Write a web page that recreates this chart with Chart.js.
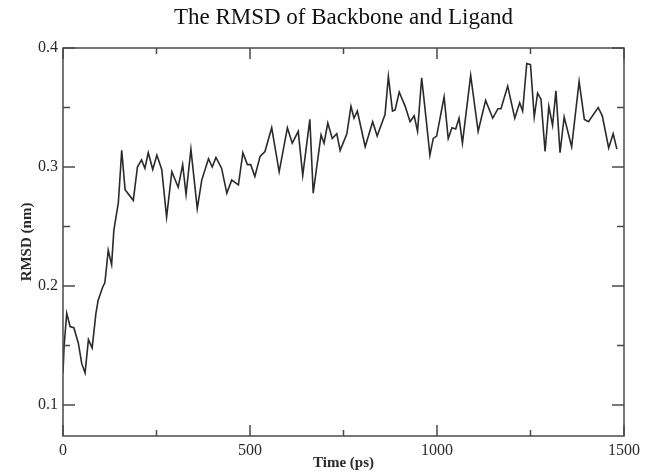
<!DOCTYPE html>
<html>
<head>
<meta charset="utf-8">
<script src="https://cdn.jsdelivr.net/npm/chart.js@4/dist/chart.umd.min.js"></script>
<style>
  html, body { margin: 0; padding: 0; background: #fff; }
  #wrap { width: 652px; height: 472px; }
</style>
</head>
<body>
<div id="wrap"><canvas id="rmsdChart" width="652" height="472"></canvas></div>
<script>
// Time (ps) and RMSD (nm)
const timePs = [
  0, 3, 10, 19, 29, 41, 50, 59, 68, 78, 88, 94, 106, 112, 121, 130, 136, 148, 157, 166,
  188, 199, 210, 219, 228, 240, 251, 264, 277, 291, 308, 320, 329, 342, 359, 371, 389, 399, 409, 424,
  438, 451, 469, 481, 493, 502, 513, 527, 540, 558, 578, 600, 613, 629, 641, 660, 669, 690, 698, 708,
  720, 732, 741, 759, 770, 778, 787, 808, 828, 840, 861, 870, 881, 888, 899, 915, 928, 939, 948, 959,
  971, 981, 990, 999, 1019, 1030, 1040, 1050, 1059, 1068, 1090, 1110, 1130, 1149, 1163, 1171, 1189, 1208, 1221, 1229,
  1240, 1250, 1260, 1269, 1278, 1289, 1299, 1309, 1318, 1329, 1340, 1360, 1380, 1394, 1405, 1431, 1442, 1459, 1471, 1481
];
const rmsdNm = [
  0.127, 0.150, 0.177, 0.166, 0.165, 0.152, 0.135, 0.127, 0.155, 0.148, 0.177, 0.188, 0.199, 0.203, 0.230, 0.218, 0.247, 0.270, 0.314, 0.281,
  0.272, 0.300, 0.306, 0.299, 0.312, 0.298, 0.310, 0.298, 0.258, 0.296, 0.283, 0.302, 0.277, 0.315, 0.265, 0.289, 0.307, 0.300, 0.308, 0.299,
  0.278, 0.289, 0.285, 0.312, 0.302, 0.302, 0.292, 0.309, 0.313, 0.333, 0.296, 0.333, 0.320, 0.330, 0.293, 0.340, 0.278, 0.327, 0.320, 0.337,
  0.324, 0.328, 0.314, 0.328, 0.351, 0.341, 0.347, 0.317, 0.338, 0.326, 0.344, 0.376, 0.347, 0.348, 0.363, 0.351, 0.338, 0.343, 0.330, 0.375,
  0.340, 0.310, 0.324, 0.326, 0.359, 0.324, 0.333, 0.332, 0.341, 0.320, 0.377, 0.330, 0.356, 0.341, 0.349, 0.349, 0.368, 0.341, 0.354, 0.347,
  0.387, 0.386, 0.342, 0.362, 0.357, 0.313, 0.351, 0.335, 0.364, 0.312, 0.342, 0.317, 0.372, 0.340, 0.338, 0.350, 0.343, 0.316, 0.328, 0.315
];
const xMajorTicks = [0, 500, 1000, 1500];
const xMinorTicks = [250, 750, 1250];
const yMajorTicks = [0.1, 0.2, 0.3, 0.4];
const yMinorTicks = [0.15, 0.25, 0.35];
const chartTitle = 'The RMSD of Backbone and Ligand';

const serif = "'Liberation Serif', 'DejaVu Serif', serif";
const ink = '#2a2a2a';

// frame plus inward ticks on all four sides, and the title centred over the plot
const frameTicks = {
  id: 'frameTicks',
  afterDraw(chart) {
    const { ctx, chartArea: a, scales } = chart;
    ctx.save();
    ctx.strokeStyle = '#4a4a4a';
    ctx.lineWidth = 1.5;
    ctx.strokeRect(a.left, a.top, a.right - a.left, a.bottom - a.top);
    ctx.beginPath();
    const xt = (vals, len) => vals.forEach(v => {
      const px = scales.x.getPixelForValue(v);
      ctx.moveTo(px, a.bottom); ctx.lineTo(px, a.bottom - len);
      ctx.moveTo(px, a.top); ctx.lineTo(px, a.top + len);
    });
    const yt = (vals, len) => vals.forEach(v => {
      const py = scales.y.getPixelForValue(v);
      ctx.moveTo(a.left, py); ctx.lineTo(a.left + len, py);
      ctx.moveTo(a.right, py); ctx.lineTo(a.right - len, py);
    });
    xt(xMajorTicks, 11); xt(xMinorTicks, 6);
    yt(yMajorTicks, 12); yt(yMinorTicks, 7);
    ctx.stroke();

    ctx.fillStyle = '#111';
    ctx.font = '23px ' + serif;
    ctx.textAlign = 'center';
    ctx.textBaseline = 'middle';
    ctx.fillText(chartTitle, (a.left + a.right) / 2, 18);
    ctx.restore();
  }
};

new Chart(document.getElementById('rmsdChart'), {
  type: 'line',
  data: {
    datasets: [{
      label: 'RMSD',
      data: timePs.map((t, i) => ({ x: t, y: rmsdNm[i] })),
      borderColor: ink,
      borderWidth: 1.6,
      pointRadius: 0,
      tension: 0,
      fill: false
    }]
  },
  options: {
    responsive: false,
    animation: false,
    layout: { padding: { left: 0, right: 28, top: 48, bottom: 0 } },
    plugins: {
      legend: { display: false },
      tooltip: { enabled: false },
      title: { display: false }
    },
    scales: {
      x: {
        type: 'linear',
        min: 0,
        max: 1500,
        afterBuildTicks: s => { s.ticks = xMajorTicks.map(v => ({ value: v })); },
        afterFit: s => { s.height = 36; },
        grid: { display: false, drawTicks: false },
        border: { display: false },
        ticks: {
          color: ink,
          padding: 5,
          maxRotation: 0,
          font: { family: serif, size: 16 },
          callback: v => String(v)
        },
        title: {
          display: true,
          text: 'Time (ps)',
          color: ink,
          font: { family: serif, size: 15, weight: 'bold' },
          padding: { top: 0, bottom: 0 }
        }
      },
      y: {
        min: 0.074,
        max: 0.4,
        afterBuildTicks: s => { s.ticks = yMajorTicks.map(v => ({ value: v })); },
        afterFit: s => { s.width = 63; },
        grid: { display: false, drawTicks: false },
        border: { display: false },
        ticks: {
          color: ink,
          padding: 5,
          font: { family: serif, size: 16 },
          callback: v => v.toFixed(1)
        },
        title: {
          display: true,
          text: 'RMSD (nm)',
          color: ink,
          font: { family: serif, size: 15, weight: 'bold' },
          padding: { top: 18, bottom: 0 }
        }
      }
    }
  },
  plugins: [frameTicks]
});
</script>
</body>
</html>
